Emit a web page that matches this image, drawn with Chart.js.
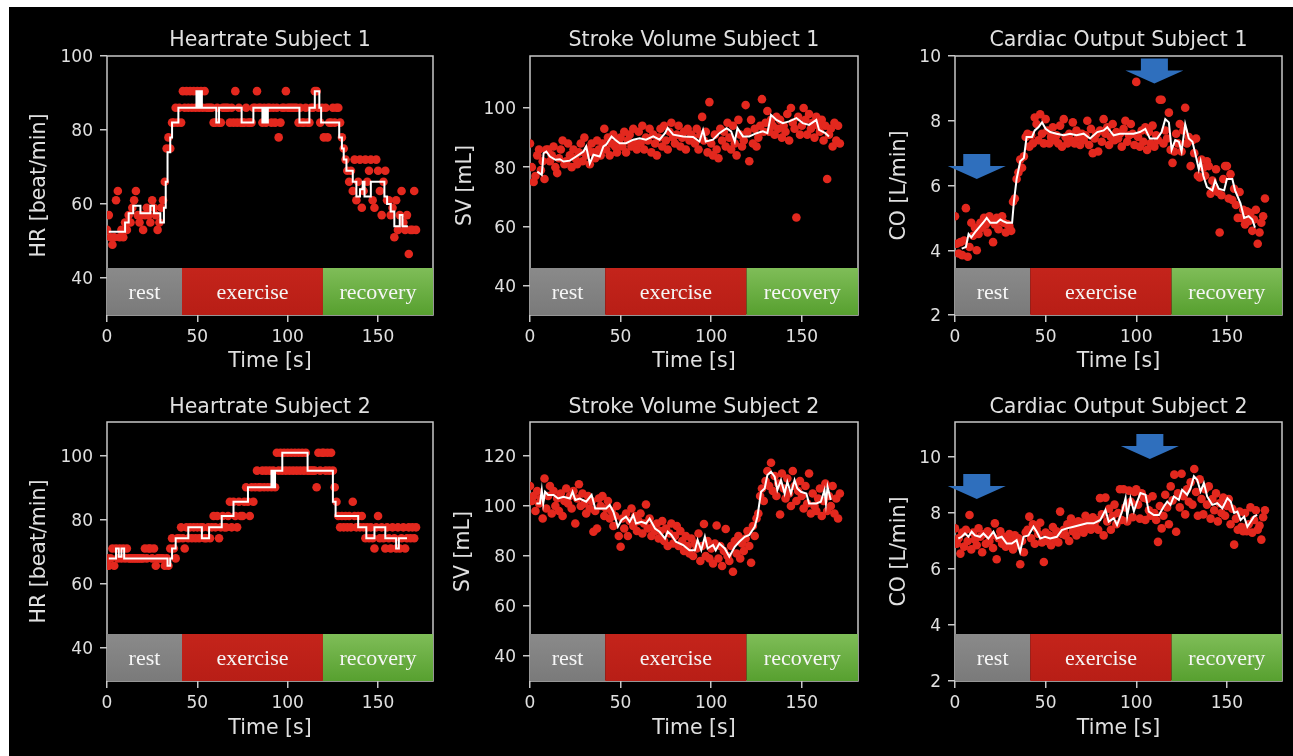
<!DOCTYPE html>
<html>
<head>
<meta charset="utf-8">
<title>Heartrate / Stroke Volume / Cardiac Output</title>
<script src="https://cdn.jsdelivr.net/npm/chart.js@4.4.1/dist/chart.umd.min.js"></script>
<style>
  html, body { margin: 0; padding: 0; background: #fff; }
  #backdrop { position: absolute; left: 9px; top: 7px; width: 1284px; height: 749px; background: #000; }
  canvas { position: absolute; }
</style>
</head>
<body>
<div id="backdrop"></div>
<canvas id="hr1"></canvas>
<canvas id="sv1"></canvas>
<canvas id="co1"></canvas>
<canvas id="hr2"></canvas>
<canvas id="sv2"></canvas>
<canvas id="co2"></canvas>
<script>
// ---------- DATA ----------
// one beat-averaged sample per second, t = 0 .. 171 s
const dotTimes = [
  0,1,2,3,4,5,6,7,8,9, 10,11,12,13,14,15,16,17,18,19, 20,21,22,23,24,25,26,27,28,29,
  30,31,32,33,34,35,36,37,38,39, 40,41,42,43,44,45,46,47,48,49, 50,51,52,53,54,55,56,57,58,59,
  60,61,62,63,64,65,66,67,68,69, 70,71,72,73,74,75,76,77,78,79, 80,81,82,83,84,85,86,87,88,89,
  90,91,92,93,94,95,96,97,98,99, 100,101,102,103,104,105,106,107,108,109, 110,111,112,113,114,115,116,117,118,119,
  120,121,122,123,124,125,126,127,128,129, 130,131,132,133,134,135,136,137,138,139, 140,141,142,143,144,145,146,147,148,149,
  150,151,152,153,154,155,156,157,158,159, 160,161,162,163,164,165,166,167,168,169, 170,171
];

const phaseNames = ['rest', 'exercise', 'recovery'];
const phaseStart = [0, 41.5, 119.5];
const phaseEnd = [41.5, 119.5, 182];

const xTicks = [0, 50, 100, 150];
const hrTicks = [40, 60, 80, 100];
const sv1Ticks = [40, 60, 80, 100];
const sv2Ticks = [40, 60, 80, 100, 120];
const coTicks = [2, 4, 6, 8, 10];

// Heartrate subject 1
const hr1Dots = [
  53, 57, 51, 49, 51, 61, 63.5, 51, 53, 51,
  55, 53, 57, 55, 59, 61, 63.5, 57, 55, 57,
  53, 57, 59, 57, 55, 61, 59, 57, 53, 55,
  59, 61, 66, 75, 78, 75, 82, 82, 86, 82,
  86, 82, 90.5, 86, 90.5, 86, 90.5, 86, 90.5, 86,
  90.5, 86, 90.5, 86, 90.5, 86, 86, 86, 86, 82,
  82, 86, 82, 82, 86, 86, 86, 86, 82, 86,
  82, 90.5, 82, 86, 82, 82, 82, 86, 82, 82,
  82, 86, 86, 90.5, 86, 86, 82, 86, 82, 86,
  86, 82, 86, 82, 86, 78, 82, 86, 86, 90.5,
  86, 86, 86, 86, 86, 86, 82, 86, 82, 82,
  86, 82, 82, 86, 86, 90.5, 90.5, 86, 82, 86,
  78, 86, 78, 82, 82, 86, 82, 86, 86, 82,
  78, 75, 72, 69, 66, 69, 63.5, 72, 61, 66,
  72, 59, 63.5, 72, 66, 69, 72, 61, 59, 72,
  69, 63.5, 57, 66, 69, 61, 61, 57, 59, 51,
  61, 53, 57, 63.5, 55, 53, 57, 46.5, 53, 53,
  63.5, 53
];
const hr1LineT = [1, 10, 12, 14.5, 18.5, 24, 26, 29.5, 31.5, 32.5, 33.5, 35, 36, 39.5, 49.5, 50.5, 51.5, 52.5, 60.5, 62,
  74.5, 81, 86, 87, 88, 89, 106.5, 112, 115, 117.5, 118.5, 128.5, 130, 131, 132.5, 136, 138, 140, 141.5, 142.5,
  146, 153.5, 155, 157, 159, 162, 163.5, 166.5];
const hr1LineV = [52.5, 55, 57.5, 59.5, 57.5, 59.5, 57.5, 55, 59, 66, 74, 78, 82, 86, 90.5, 86, 90.5, 86, 82, 86,
  82, 86, 82, 86, 82, 86, 82, 86, 90.5, 86, 82, 78, 75, 72, 69, 66, 62, 64, 66, 62,
  66, 62, 60, 58, 54, 57, 54, 54];

// Stroke volume subject 1
const sv1Dots = [
  88, 80, 75, 77, 84, 86, 79, 82, 76, 86,
  86, 82, 84, 87, 80, 78, 83, 86, 89, 81,
  82, 88, 84, 80, 86, 83, 81, 85, 88, 82,
  90, 84, 86, 81, 88, 85, 83, 89, 86, 84,
  88, 93, 86, 90, 84, 88, 91, 87, 85, 89,
  90, 87, 92, 85, 89, 91, 87, 93, 88, 86,
  92, 88, 94, 86, 90, 89, 93, 85, 91, 88,
  84, 90, 93, 87, 94, 89, 86, 92, 95, 90,
  88, 91, 94, 87, 90, 92, 86, 93, 89, 91,
  90, 88, 93, 86, 91, 97, 89, 92, 85, 102,
  88, 84, 91, 86, 83, 93, 89, 92, 87, 95,
  90, 86, 94, 88, 84, 96, 91, 87, 89, 101,
  92, 82, 96, 88, 93, 87, 90, 94, 103, 92,
  95, 99, 92, 96, 94, 91, 97, 93, 96, 90,
  94, 92, 98, 89, 100, 95, 93, 63, 97, 91,
  94, 100, 96, 91, 98, 93, 95, 90, 97, 94,
  92, 96, 89, 94, 76, 91, 93, 87, 95, 89,
  94, 88
];
const sv1LineT = [4, 6.5, 7.5, 9, 11, 14, 16.5, 18.5, 22, 25.5, 29.5, 31, 33, 35, 38.5, 40.5, 42, 45, 47, 49.5,
  53, 57, 60.5, 64, 68, 71.5, 74.5, 76, 79, 84.5, 90, 93.5, 95.5, 97, 101, 104.5, 108.5, 111, 113, 114.5,
  117.5, 121, 125, 128.5, 131, 133, 136, 139.5, 143, 147, 150.5, 154, 158, 159.5, 163, 165];
const sv1LineV = [78.5, 77.4, 84.7, 85.3, 83.6, 82.5, 82.7, 81.9, 82.2, 83.6, 85.3, 87, 81.3, 84.2, 83.6, 87, 87.6, 90.4, 89.3, 88.1,
  88.1, 89.3, 89.8, 89.3, 90.4, 89.3, 91.5, 93.2, 91, 90.4, 90.2, 88.7, 92.6, 88.7, 89.3, 91.5, 93.2, 92.1, 88.7, 93.2,
  90.4, 90.4, 91.5, 92.1, 91.5, 97.7, 96, 94.9, 95.5, 96.6, 94.9, 94.3, 96, 92.6, 91.5, 90.4];

// Cardiac output subject 1
const co1Dots = [
  5.05, 4.2, 3.9, 4.25, 3.85, 4.3, 5.3, 3.8, 4.1, 4.85,
  4.45, 4.7, 4.0, 4.5, 4.85, 4.7, 5.0, 4.8, 4.55, 5.05,
  4.9, 4.25, 4.8, 5.0, 4.65, 4.9, 5.05, 4.85, 4.55, 4.8,
  4.75, 4.6, 5.5, 5.6, 6.2, 6.4, 6.8, 6.55, 6.9, 7.5,
  7.6, 7.2, 7.55, 7.3, 8.1, 7.9, 7.4, 8.2, 7.6, 7.3,
  8.05, 7.7, 7.3, 7.5, 7.8, 7.4, 7.55, 7.3, 7.85, 7.2,
  8.05, 7.5, 7.3, 7.6, 7.4, 7.95, 7.3, 7.7, 7.5, 7.25,
  7.6, 7.4, 7.55, 8.0, 7.25, 7.75, 7.0, 7.45, 7.6, 7.05,
  7.7, 7.35, 8.05, 7.6, 7.8, 7.25, 7.5, 7.9, 7.4, 7.65,
  7.45, 7.6, 7.2, 7.75, 8.0, 7.35, 7.55, 7.9, 7.6, 7.25,
  9.2, 7.5, 7.2, 7.7, 7.35, 7.8, 7.1, 7.65, 7.3, 7.85,
  7.2, 7.55, 7.4, 8.65, 8.65, 7.3, 7.7, 7.45, 8.25, 7.1,
  6.7, 7.05, 7.6, 7.3, 7.9, 7.05, 7.7, 8.4, 7.3, 7.5,
  6.6, 7.4, 7.0, 7.45, 6.3, 6.25, 6.8, 6.55, 6.3, 6.75,
  6.6, 5.75, 6.15, 5.9, 6.5, 5.8, 4.55, 5.7, 6.2, 6.6,
  6.6, 5.6, 6.35, 5.55, 5.9, 5.4, 5.0, 5.8, 5.0, 5.25,
  4.8, 5.2, 4.9, 5.15, 4.6, 4.95, 5.25, 4.2, 4.55, 4.85,
  5.05, 5.6
];
const co1LineT = [3.7, 6, 7.5, 9, 11, 14, 15.5, 17.5, 19.5, 23, 25, 26.5, 28.5, 31.5, 32.5, 34, 36, 38, 39.5, 42.5,
  44, 46, 48, 50, 52.5, 56, 60, 63.5, 67, 71, 74.5, 78.5, 82, 84, 87.5, 91, 95, 98.5, 102, 105,
  107.5, 111.5, 114, 116, 118, 119.5, 121.5, 123.5, 125, 127, 129, 131, 132.5, 134.5, 135.5, 137, 139, 142, 143.5, 145.5,
  148.5, 150, 153, 154.5, 157.5, 159.5, 162, 164, 165.5];
const co1LineV = [4.05, 4.1, 4.5, 4.4, 4.55, 4.75, 4.85, 5.0, 4.85, 4.85, 4.95, 4.9, 4.85, 4.85, 5.5, 6.2, 6.75, 6.85, 7.5, 7.5,
  7.7, 7.8, 7.95, 7.75, 7.65, 7.6, 7.55, 7.6, 7.55, 7.6, 7.45, 7.65, 7.7, 7.8, 7.55, 7.6, 7.6, 7.6, 7.65, 7.75,
  7.45, 7.45, 7.65, 8.05, 7.95, 7.1, 7.4, 7.35, 7.05, 7.9, 7.45, 7.35, 7.0, 6.5, 6.75, 6.3, 5.95, 5.85, 6.15, 5.9,
  5.85, 6.2, 6.2, 5.85, 5.45, 5.0, 5.05, 4.95, 4.7];
const co1ArrowT = [12, 110];
const co1ArrowV = [6.2, 9.15];

// Heartrate subject 2
const hr2Dots = [
  68, 65.7, 68, 71.1, 65.7, 71.1, 68, 71.1, 68, 71.1,
  68, 71.1, 68, 68, 68, 68, 68, 68, 68, 68,
  68, 71.1, 68, 71.1, 71.1, 68, 71.1, 65.7, 68, 68,
  68, 68, 65.7, 68, 65.7, 71.1, 74.3, 71.1, 68, 74.3,
  74.3, 77.7, 74.3, 71.1, 77.7, 74.3, 77.7, 74.3, 77.7, 74.3,
  77.7, 74.3, 77.7, 77.7, 74.3, 74.3, 77.7, 74.3, 77.7, 81.25,
  77.7, 81.25, 74.3, 77.7, 81.25, 77.7, 77.7, 81.25, 85.7, 77.7,
  85.7, 81.25, 77.7, 85.7, 81.25, 81.25, 85.7, 90.2, 85.7, 81.25,
  90.2, 85.7, 90.2, 95.4, 90.2, 90.2, 95.4, 90.2, 95.4, 90.2,
  95.4, 90.2, 95.4, 90.2, 101, 95.4, 101, 95.4, 101, 95.4,
  101, 95.4, 101, 95.4, 101, 95.4, 101, 95.4, 101, 95.4,
  101, 95.4, 95.4, 95.4, 95.4, 95.4, 90.2, 101, 95.4, 101,
  101, 95.4, 101, 95.4, 101, 95.4, 90.2, 85.7, 81.25, 77.7,
  81.25, 77.7, 81.25, 77.7, 81.25, 77.7, 85.7, 81.25, 77.7, 81.25,
  77.7, 81.25, 77.7, 74.3, 77.7, 74.3, 77.7, 74.3, 71.1, 77.7,
  81.25, 74.3, 77.7, 74.3, 71.1, 77.7, 74.3, 71.1, 77.7, 74.3,
  71.1, 77.7, 71.1, 74.3, 77.7, 71.1, 74.3, 77.7, 74.3, 77.7,
  74.3, 77.7
];
const hr2LineT = [1, 5, 6.5, 8, 9.5, 33.5, 35, 36, 38, 45, 52.5, 56.5, 63.5, 70, 78, 91, 92, 93, 97, 111,
  125, 126.5, 139, 143.5, 148, 154, 160, 161.5, 166];
const hr2LineV = [68, 71.1, 68.5, 71.1, 68, 65.7, 68, 71.1, 74.3, 77.7, 74.3, 77.7, 81.25, 85.7, 90.2, 95.4, 90.2, 95.4, 101, 95.4,
  85.7, 81.25, 77.7, 74.3, 77.7, 74.3, 71.1, 74.3, 74.3];

// Stroke volume subject 2
const sv2Dots = [
  108, 102, 104, 98, 106, 101, 103, 95, 111, 99,
  104, 108, 97, 106, 100, 103, 98, 105, 96, 102,
  107, 101, 104, 99, 106, 93, 103, 108.7, 100, 105,
  101, 97, 104, 99, 102, 89.7, 98, 91, 103, 100,
  104, 96, 99, 102, 95, 98, 92, 96, 100, 88,
  83.7, 95, 91, 97, 88, 94, 99, 92, 96, 90,
  94, 97, 89, 93, 100.6, 91, 95, 88, 92, 90,
  93, 87, 90, 94, 86, 91, 84, 89, 93, 85,
  88, 92, 84, 90, 86, 82, 88, 84, 81, 87,
  80, 85, 83, 89, 78, 84, 92.8, 80, 86, 79,
  83, 77, 85, 92.2, 79, 84, 76, 82, 90.8, 80,
  78, 84, 73.7, 86, 81, 88, 79, 85, 82, 87,
  90, 84, 77.3, 92, 88, 95, 97, 104, 107, 102,
  110, 114, 108, 117.3, 106, 112, 104, 109, 96.6, 113,
  107, 103, 111, 105, 100, 114, 108, 102, 106, 110,
  104, 99, 108, 101, 113, 97, 105, 100, 98, 103,
  107, 96, 102, 109, 98, 104, 100, 108, 97, 103,
  95, 105
];
const sv2LineT = [3.5, 5.5, 6.5, 7.3, 8.3, 10, 13, 15.5, 18.5, 22, 23.5, 25, 27.5, 31, 34, 36, 38.5, 42, 44, 46,
  48.5, 50.5, 53, 55, 57, 58.5, 61.5, 64, 66, 69, 71.5, 74.5, 76, 78, 80.5, 84.5, 88, 91, 92.5, 94.5,
  96.5, 98, 101, 102.5, 104.5, 107.5, 110, 113, 115.5, 118.5, 121, 124, 125.5, 127.5, 129.5, 131, 133, 135, 136.5, 138.5,
  140.5, 142, 144, 146, 147.5, 149.5, 152.5, 154, 158, 160.5, 162.5, 163.3, 164.2, 166];
const sv2LineV = [101, 101, 106.4, 101, 105.7, 104.4, 104.4, 103, 103.7, 103, 105.7, 102.4, 103, 101.7, 104.4, 99, 99, 99, 100.4, 97.7,
  91.7, 94.4, 95.7, 93.7, 96.4, 93, 93.7, 93, 95, 91, 89.7, 87, 89.7, 88.4, 85.7, 84.4, 82.3, 82.3, 86.4, 82.3,
  87.7, 83, 84.4, 82.3, 85, 83, 79.7, 83.7, 85.7, 87.7, 88.4, 91.7, 95.7, 105.7, 107, 112.4, 113.7, 111.7, 106.4, 110.4,
  105, 109.7, 105, 110.4, 107, 105.7, 105, 101, 101, 101.7, 106.4, 101, 107.7, 102.4];

// Cardiac output subject 2
const co2Dots = [
  7.45, 6.9, 7.1, 6.55, 7.3, 6.8, 7.4, 7.0, 7.93, 6.7,
  7.3, 7.05, 6.85, 7.45, 7.15, 6.6, 7.25, 6.9, 7.35, 7.0,
  7.2, 6.75, 7.63, 6.35, 7.1, 7.35, 6.9, 7.15, 6.8, 7.05,
  7.25, 6.95, 6.7, 7.2, 6.85, 7.1, 6.17, 7.0, 6.6, 7.3,
  7.4, 7.87, 7.1, 7.6, 6.9, 7.45, 7.25, 7.65, 6.95, 6.25,
  7.3, 7.0, 7.2, 6.85, 7.5, 7.1, 7.35, 6.95, 8.05, 7.25,
  7.4, 7.2, 7.6, 7.0, 7.8, 7.35, 7.55, 7.2, 7.7, 7.45,
  7.65, 7.3, 7.9, 7.5, 7.7, 7.4, 7.85, 7.55, 7.75, 7.4,
  8.53, 7.95, 7.2, 8.55, 7.7, 8.15, 7.4, 7.9, 8.3, 7.6,
  8.0, 8.85, 7.75, 8.85, 8.2, 7.7, 8.8, 8.4, 7.85, 8.75,
  8.85, 8.3, 7.8, 8.7, 8.55, 7.75, 8.5, 8.1, 7.9, 8.6,
  8.0, 7.75, 6.97, 8.25, 7.45, 7.9, 8.65, 8.2, 7.6, 8.95,
  8.45, 9.37, 7.33, 8.7, 8.2, 9.4, 8.6, 7.95, 8.85, 8.4,
  9.1, 8.3, 9.57, 8.75, 7.9, 9.2, 8.5, 7.95, 8.85, 8.3,
  8.95, 7.8, 8.5, 8.1, 8.7, 7.7, 8.35, 8.0, 8.55, 7.9,
  8.25, 8.5, 7.6, 8.15, 6.87, 7.8, 7.4, 8.05, 7.5, 7.35,
  8.0, 7.35, 7.6, 8.2, 7.3, 7.75, 8.1, 7.4, 7.55, 7.05,
  7.85, 8.1
];
const co2LineT = [1.8, 3.7, 5.5, 7.4, 9.2, 11, 13.8, 15.7, 18.4, 21.2, 23, 25.8, 28.5, 31.3, 34, 35.9, 37.8, 40.5, 43.3, 45.1,
  47, 49.7, 52.5, 56.2, 58.9, 61.7, 65.4, 69.1, 72.8, 76.5, 80.2, 83, 84.8, 87.6, 89.4, 92.2, 94.1, 95, 96.8, 98.7,
  100.5, 102.3, 105.1, 106.9, 109.7, 112.5, 115.2, 117.1, 118.9, 120.7, 123.5, 125.3, 128.1, 130, 131.8, 133.6, 135.5, 137.3, 139.1, 141.9,
  144.7, 147.5, 150.3, 152.1, 154, 155.8, 157.6, 159.5, 161.3, 163.1, 164.9, 166.7];
const co2LineV = [7.09, 7.15, 7.27, 7.15, 7.33, 7.2, 7.15, 7.27, 7.09, 7.33, 7.09, 7.15, 6.91, 6.91, 7.03, 6.61, 7.15, 7.2, 7.51, 7.33,
  7.09, 7.15, 7.09, 7.15, 7.39, 7.45, 7.51, 7.57, 7.63, 7.63, 7.75, 8.11, 7.69, 7.81, 7.57, 8.06, 8.53, 7.88, 8.53, 8.06,
  8.41, 8.71, 8.65, 8.05, 7.93, 7.93, 8.23, 8.41, 8.29, 8.59, 8.47, 8.83, 8.65, 8.89, 9.31, 9.19, 8.77, 9.07, 8.59, 8.29,
  8.35, 8.17, 8.53, 8.41, 8.0, 8.05, 7.75, 7.87, 7.51, 7.69, 7.87, 7.93];
const co2ArrowT = [12, 107.5];
const co2ArrowV = [8.5, 9.93];

// ---------- LAYOUT / STYLE ----------
const TEXT = '#e0e0e0';
const FRAME = '#c8c8c8';
const DOT_RED = '#e3281e';
const ARROW_BLUE = '#2f6fbd';
const FONT = "'DejaVu Sans', 'Noto Sans', sans-serif";
Chart.defaults.font.family = FONT;
Chart.defaults.color = TEXT;

// canvas boxes per column / row (page px)
const colLeft = [9, 440, 870];
const colWidth = [431, 430, 423];
const yAxisWidth = [98, 90, 85];
const padRight = [7, 12, 11];
const xMax = [180.4, 181, 180.4];
const rowTop = [7, 385];
const rowHeight = [378, 371];
const titlePad = [{ top: 21.4, bottom: 3 }, { top: 10.4, bottom: 2 }];
const xAxisHeight = [70, 75];
const xTitlePad = [10.7, 14.7];
const yTitlePad = [[18.7, 13.7, 17.7], [18.7, 11.7, 17.7]];
const BAND_H = 47;

const panels = [
  { id: 'hr1', row: 0, col: 0, title: 'Heartrate Subject 1', yLabel: 'HR [beat/min]', yMin: 30, yMax: 100, yTicks: hrTicks,
    dots: hr1Dots, lineT: hr1LineT, lineV: hr1LineV, stepped: true },
  { id: 'sv1', row: 0, col: 1, title: 'Stroke Volume Subject 1', yLabel: 'SV [mL]', yMin: 30, yMax: 117.6, yTicks: sv1Ticks,
    dots: sv1Dots, lineT: sv1LineT, lineV: sv1LineV, stepped: false },
  { id: 'co1', row: 0, col: 2, title: 'Cardiac Output Subject 1', yLabel: 'CO [L/min]', yMin: 2, yMax: 10, yTicks: coTicks,
    dots: co1Dots, lineT: co1LineT, lineV: co1LineV, stepped: false, arrowT: co1ArrowT, arrowV: co1ArrowV },
  { id: 'hr2', row: 1, col: 0, title: 'Heartrate Subject 2', yLabel: 'HR [beat/min]', yMin: 29.7, yMax: 110.6, yTicks: hrTicks,
    dots: hr2Dots, lineT: hr2LineT, lineV: hr2LineV, stepped: true },
  { id: 'sv2', row: 1, col: 1, title: 'Stroke Volume Subject 2', yLabel: 'SV [mL]', yMin: 30, yMax: 133.6, yTicks: sv2Ticks,
    dots: sv2Dots, lineT: sv2LineT, lineV: sv2LineV, stepped: false },
  { id: 'co2', row: 1, col: 2, title: 'Cardiac Output Subject 2', yLabel: 'CO [L/min]', yMin: 2, yMax: 11.25, yTicks: coTicks,
    dots: co2Dots, lineT: co2LineT, lineV: co2LineV, stepped: false, arrowT: co2ArrowT, arrowV: co2ArrowV }
];

// ---------- PLUGINS ----------
// frame round the plot + the rest / exercise / recovery strip along the bottom
const phasePlugin = {
  id: 'phases',
  beforeDatasetsDraw(chart) {
    const { ctx, chartArea: a, scales: { x } } = chart;
    ctx.save();
    ctx.strokeStyle = FRAME;
    ctx.lineWidth = 1.5;
    ctx.strokeRect(a.left, a.top, a.right - a.left, a.bottom - a.top);

    const top = a.bottom - BAND_H;
    const fills = [
      ['#8a8a8a', '#7a7a7a'],
      ['#c4241b', '#b81e16'],
      ['#7fbd58', '#57a02f']
    ];
    phaseNames.forEach((name, i) => {
      const x0 = Math.max(a.left, x.getPixelForValue(phaseStart[i]));
      const x1 = Math.min(a.right, x.getPixelForValue(phaseEnd[i]));
      const g = ctx.createLinearGradient(0, top, 0, a.bottom);
      g.addColorStop(0, fills[i][0]);
      g.addColorStop(1, fills[i][1]);
      ctx.fillStyle = g;
      ctx.fillRect(x0, top, x1 - x0, BAND_H);
      ctx.fillStyle = '#f6f6f6';
      ctx.font = '22px "Liberation Serif", "DejaVu Serif", serif';
      ctx.textAlign = 'center';
      ctx.textBaseline = 'alphabetic';
      ctx.fillText(name, (x0 + x1) / 2, a.bottom - 16);
    });
    ctx.restore();
  }
};

// blue block arrows on the cardiac output panels (tip given in data units)
const arrowPlugin = {
  id: 'arrows',
  afterDatasetsDraw(chart, args, opts) {
    if (!opts.t) return;
    const { ctx, scales: { x, y } } = chart;
    const shaftW = 27, headW = 58, shaftH = 12, headH = 13;
    ctx.save();
    ctx.fillStyle = ARROW_BLUE;
    opts.t.forEach((t, i) => {
      const px = x.getPixelForValue(t);
      const py = y.getPixelForValue(opts.v[i]);
      const base = py - headH;
      const top = base - shaftH;
      ctx.beginPath();
      ctx.moveTo(px - shaftW / 2, top);
      ctx.lineTo(px + shaftW / 2, top);
      ctx.lineTo(px + shaftW / 2, base);
      ctx.lineTo(px + headW / 2, base);
      ctx.lineTo(px, py);
      ctx.lineTo(px - headW / 2, base);
      ctx.lineTo(px - shaftW / 2, base);
      ctx.closePath();
      ctx.fill();
    });
    ctx.restore();
  }
};

// ---------- BUILD ----------
function makePanel(p) {
  const el = document.getElementById(p.id);
  el.width = colWidth[p.col];
  el.height = rowHeight[p.row];
  el.style.left = colLeft[p.col] + 'px';
  el.style.top = rowTop[p.row] + 'px';

  const tickFont = { family: FONT, size: 17 };
  const labelFont = { family: FONT, size: 20.5 };

  return new Chart(el, {
    type: 'scatter',
    data: {
      datasets: [
        {
          type: 'line',
          data: p.lineT.map((t, i) => ({ x: t, y: p.lineV[i] })),
          borderColor: '#ffffff',
          borderWidth: 2,
          pointRadius: 0,
          tension: 0,
          stepped: p.stepped,
          showLine: true,
          order: 0
        },
        {
          data: dotTimes.map((t, i) => ({ x: t, y: p.dots[i] })),
          backgroundColor: DOT_RED,
          borderWidth: 0,
          pointRadius: 4.3,
          order: 1
        }
      ]
    },
    options: {
      responsive: false,
      animation: false,
      devicePixelRatio: 1,
      layout: { padding: { left: 0, top: 0, right: padRight[p.col], bottom: 0 } },
      plugins: {
        legend: { display: false },
        tooltip: { enabled: false },
        title: {
          display: true,
          text: p.title,
          color: TEXT,
          font: { family: FONT, size: 20.5, weight: 'normal' },
          padding: titlePad[p.row],
          fullSize: false
        },
        arrows: { t: p.arrowT, v: p.arrowV }
      },
      scales: {
        x: {
          type: 'linear',
          min: 0,
          max: xMax[p.col],
          afterBuildTicks: s => { s.ticks = xTicks.map(v => ({ value: v })); },
          afterFit: s => { s.height = xAxisHeight[p.row]; },
          border: { display: false },
          grid: { drawOnChartArea: false, drawTicks: true, tickLength: 7, color: FRAME, lineWidth: 1.5 },
          ticks: { color: TEXT, font: tickFont, padding: 5, maxRotation: 0, autoSkip: false },
          title: { display: true, text: 'Time [s]', color: TEXT, font: labelFont, padding: { top: 0, bottom: xTitlePad[p.row] } }
        },
        y: {
          type: 'linear',
          min: p.yMin,
          max: p.yMax,
          afterBuildTicks: s => { s.ticks = p.yTicks.map(v => ({ value: v })); },
          afterFit: s => { s.width = yAxisWidth[p.col]; },
          border: { display: false },
          grid: { drawOnChartArea: false, drawTicks: true, tickLength: 7, color: FRAME, lineWidth: 1.5 },
          ticks: { color: TEXT, font: tickFont, padding: 7, labelOffset: 2, autoSkip: false },
          title: { display: true, text: p.yLabel, color: TEXT, font: labelFont, padding: { top: yTitlePad[p.row][p.col], bottom: 0 } }
        }
      }
    },
    plugins: [phasePlugin, arrowPlugin]
  });
}

panels.forEach(makePanel);
</script>
</body>
</html>
